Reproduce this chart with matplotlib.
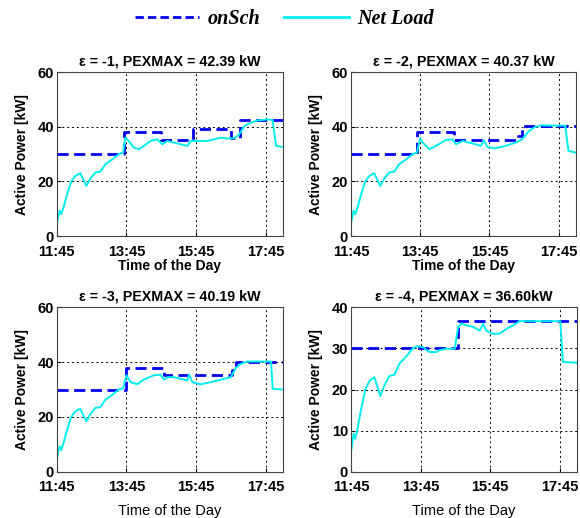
import matplotlib
matplotlib.use('Agg')
import matplotlib.pyplot as plt
from matplotlib.lines import Line2D

# minutes after 11:45
tick_pos = [0, 120, 240, 360]
tick_labels = ['11:45', '13:45', '15:45', '17:45']

# net load before the schedules diverge (same in all four cases)
t_early = [0, 4.6, 7.5, 11.5, 17.3, 24.8, 31.7, 40.4, 50.8, 57.7, 66.4, 75, 83.7, 95.2, 106.7, 114.3]
net_early = [4.5, 9.3, 8, 10.5, 15, 20, 22, 23, 18.4, 21, 23.3, 23.6, 26.3, 28, 30, 30.5]

titles = ['ε = -1, PEXMAX = 42.39 kW', 'ε = -2, PEXMAX = 40.37 kW',
          'ε = -3, PEXMAX = 40.19 kW', 'ε = -4, PEXMAX = 36.60kW']

# onSch step schedules: start time of each step and level
sch_t1 = [0, 115, 180, 235, 300, 315, 390]
sch_v1 = [30, 38, 35.2, 39, 36, 42.39, 42.39]
sch_t2 = [0, 115, 179, 290, 297, 390]
sch_v2 = [30, 38, 35.2, 36.5, 40.37, 40.37]
sch_t3 = [0, 119, 185, 302, 309, 390]
sch_v3 = [30, 37.9, 35.3, 37, 40.19, 40.19]
sch_t4 = [0, 185, 390]
sch_v4 = [30, 36.6, 36.6]

# net load after the schedules diverge
tail_t1 = [117.7, 124, 132.7, 141.4, 150, 161.6, 173, 181.8, 190.4, 202, 213.5, 225, 230.8, 236.6, 248,
           259.7, 271, 282.7, 294.3, 305.8, 314.5, 323, 334.7, 346, 363.5, 372, 378, 390]
tail_v1 = [36, 34.8, 32.4, 31.8, 33, 34.8, 35.4, 33.6, 34.8, 34.2, 33.6, 33, 34.8, 34.8, 34.8,
           34.8, 35.4, 36, 35.7, 35.8, 37.2, 40.2, 41.5, 42.3, 42.7, 42.4, 33, 32.6]
tail_t2 = [120, 124.6, 136, 147.5, 164.8, 176, 182, 193.5, 205, 216.4, 225, 230.8, 236.5, 250.9,
           268, 285, 296.8, 308.3, 319.7, 331, 354, 371.4, 377, 390]
tail_v2 = [35.8, 34.2, 31.8, 33, 35.2, 35.4, 33.6, 34.8, 34.2, 33.6, 33, 35, 32.6, 32.1,
           33, 34.2, 35.4, 38.4, 40, 40.5, 40.4, 40.4, 31.2, 30.5]
tail_t3 = [120, 127, 138.5, 150, 167.3, 178.9, 184.6, 190.4, 202, 213.5, 225, 228, 233.7, 248,
           265.4, 282.7, 300, 308.7, 317.4, 329, 363.5, 369.3, 372.2, 390]
tail_v3 = [35.2, 32.7, 31.9, 33.6, 35.2, 35.4, 33.6, 34.5, 34.5, 33.9, 33.3, 35.5, 32.7, 31.9,
           32.7, 33.6, 34.5, 37.9, 39.4, 40.2, 40.2, 40.2, 30.3, 30]
tail_t4 = [124.6, 130.3, 136, 147.5, 153.3, 164.8, 179, 184.8, 190.6, 199.2, 210.7, 222.2, 227.9,
           233.6, 245.1, 256.6, 268, 279.6, 291, 296.8, 354.2, 361, 365.5, 390]
tail_v4 = [30.3, 29.6, 29.1, 29.1, 29.6, 29.9, 29.9, 35.2, 36, 35.6, 35.2, 34.3, 36,
           34.3, 33.5, 33.6, 34.7, 35.6, 36.6, 36.6, 36.6, 36.6, 26.7, 26.5]

sch_t = [sch_t1, sch_t2, sch_t3, sch_t4]
sch_v = [sch_v1, sch_v2, sch_v3, sch_v4]
tail_t = [tail_t1, tail_t2, tail_t3, tail_t4]
tail_v = [tail_v1, tail_v2, tail_v3, tail_v4]
y_max = [60, 60, 60, 40]
y_ticks = [[0, 20, 40, 60], [0, 20, 40, 60], [0, 20, 40, 60], [0, 10, 20, 30, 40]]

plt.rcParams['font.family'] = ['Liberation Sans', 'DejaVu Sans']

fig = plt.figure(figsize=(5.8, 5.18), dpi=100)
boxes = [[0.098, 0.544, 0.390, 0.317], [0.605, 0.544, 0.388, 0.317],
         [0.098, 0.089, 0.390, 0.318], [0.605, 0.089, 0.390, 0.318]]

for i, box in enumerate(boxes):
    ax = fig.add_axes(box)
    ax.step(sch_t[i], sch_v[i], where='post', color='#0000ee', linestyle='--', linewidth=2.0, dashes=(4, 2))
    ax.plot(t_early + tail_t[i], net_early + tail_v[i], color='#00eeee', linewidth=1.4)
    ax.set_xlim(0, 390)
    ax.set_ylim(0, y_max[i])
    ax.set_xticks(tick_pos)
    ax.set_xticklabels(tick_labels)
    ax.set_yticks(y_ticks[i])
    ax.tick_params(direction='in', length=3, labelsize=10.5)
    ax.tick_params(axis='x', pad=6)
    ax.tick_params(axis='y', pad=2)
    for lab in ax.get_xticklabels() + ax.get_yticklabels():
        lab.set_fontweight('bold')
    ax.grid(True, color='black', linestyle=(0, (2, 3)), linewidth=0.7)
    for s in ax.spines.values():
        s.set_color('#444444')
    ax.set_title(titles[i], fontsize=10.3, fontweight='bold', pad=5)
    ax.set_ylabel('Active Power [kW]', fontsize=10, fontweight='bold', labelpad=6)
    if i < 2:
        ax.set_xlabel('Time of the Day', fontsize=10, fontweight='bold', labelpad=0)
    else:
        ax.set_xlabel('Time of the Day', fontsize=10.5, labelpad=7)

handles = [Line2D([], [], color='#0000ee', linestyle='--', linewidth=2.0, dashes=(3, 1.5)),
           Line2D([], [], color='#00eeee', linewidth=2.0)]
fig.legend(handles, ['onSch', 'Net Load'], loc='center', bbox_to_anchor=(0.49, 0.963), ncol=2,
           frameon=False, handlelength=3.2, columnspacing=1.2, handletextpad=0.4,
           prop={'family': 'Liberation Serif', 'weight': 'bold', 'style': 'italic', 'size': 14.5})

fig.savefig('out.png', dpi=100)
